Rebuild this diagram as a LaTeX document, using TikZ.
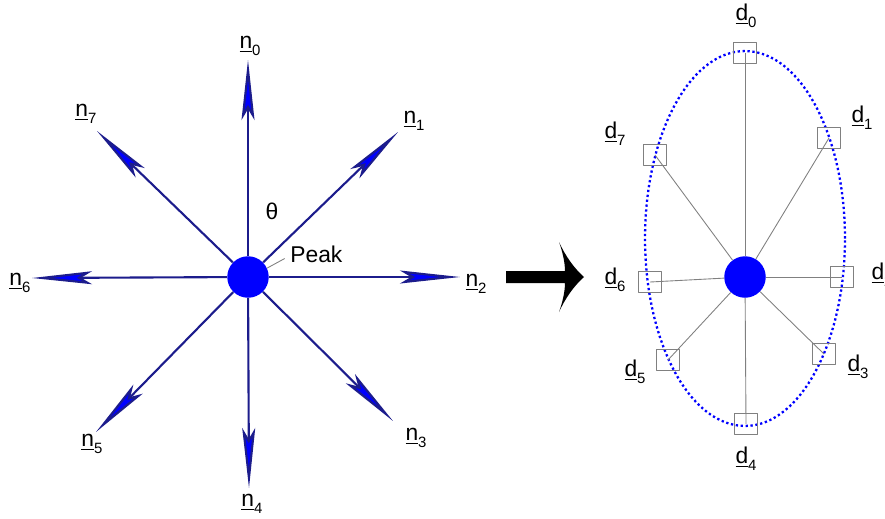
\documentclass[tikz,border=0pt]{standalone}
\usepackage{fontspec}
\setmainfont{Liberation Sans}
\usetikzlibrary{arrows.meta}
\definecolor{vecline}{RGB}{28,28,140}
\newcommand{\vlab}[2]{\underline{#1}\raisebox{-4pt}{\fontsize{8.5}{9}\selectfont #2}}

\begin{document}
\begin{tikzpicture}[x=0.02cm,y=-0.02cm,line join=round,font=\fontsize{13}{15}\selectfont,
	vec/.style={draw=vecline,line width=1.2pt,-{Stealth[length=1.2cm,width=0.26cm,inset=0.22cm,fill=blue]}},
	blob/.style={circle,fill=blue,minimum size=0.83cm,inner sep=0pt},
	cell/.style={draw=gray,rectangle,minimum width=0.46cm,minimum height=0.41cm,inner sep=0pt},
	spoke/.style={draw=gray,line width=0.5pt},
	lab/.style={inner sep=0pt}]
	\useasboundingbox (0,0) rectangle (885,518);
	%========================
	% left: peak with 8 directions
	\node[blob] (peak) at (248,277) {};
	\coordinate (t0) at (248,60);
	\coordinate (t1) at (398,132);
	\coordinate (t2) at (460,277);
	\coordinate (t3) at (393,421);
	\coordinate (t4) at (249,488);
	\coordinate (t5) at (96,432);
	\coordinate (t6) at (32,278);
	\coordinate (t7) at (97,131);
	\draw[vec] (peak) -- (t0);
	\draw[vec] (peak) -- (t1);
	\draw[vec] (peak) -- (t2);
	\draw[vec] (peak) -- (t3);
	\draw[vec] (peak) -- (t4);
	\draw[vec] (peak) -- (t5);
	\draw[vec] (peak) -- (t6);
	\draw[vec] (peak) -- (t7);
	\node[lab] (n0) at (250,46) {\vlab{n}{0}};
	\node[lab] (n1) at (414,121) {\vlab{n}{1}};
	\node[lab] (n2) at (476,284) {\vlab{n}{2}};
	\node[lab] (n3) at (416,438) {\vlab{n}{3}};
	\node[lab] (n4) at (252,504) {\vlab{n}{4}};
	\node[lab] (n5) at (92,444) {\vlab{n}{5}};
	\node[lab] (n6) at (20,283) {\vlab{n}{6}};
	\node[lab] (n7) at (86,114) {\vlab{n}{7}};
	\node[lab] (theta) at (272,211) {θ};
	\node[lab,anchor=base west] (peaktxt) at (290,262) {Peak};
	\draw[spoke] (peak.25) -- ([xshift=-3pt,yshift=2pt]peaktxt.base west);
	%========================
	% big arrow
	\fill (506,271) -- (565,271) .. controls (565,262) and (562,250) .. (559,242)
		.. controls (566,257) and (574,268) .. (584,277)
		.. controls (574,286) and (566,297) .. (559,312)
		.. controls (562,304) and (565,292) .. (565,283) -- (506,283) -- cycle;
	%========================
	% right: peak with 8 cells on ellipse
	\draw[blue,line width=1.3pt,dash pattern=on 1.3pt off 1.5pt] (745,238.5) ellipse [x radius=2cm,y radius=3.75cm];
	\node[blob] (hub) at (745,277) {};
	\node[cell] (d0) at (745,53) {};
	\node[cell] (d1) at (829,138) {};
	\node[cell] (d2) at (842,277) {};
	\node[cell] (d3) at (824,354) {};
	\node[cell] (d4) at (746,424) {};
	\node[cell] (d5) at (668,360) {};
	\node[cell] (d6) at (650,282) {};
	\node[cell] (d7) at (655,155) {};
	\draw[spoke] (hub) -- (d0.center);
	\draw[spoke] (hub) -- (d1.center);
	\draw[spoke] (hub) -- (d2.center);
	\draw[spoke] (hub) -- (d3.center);
	\draw[spoke] (hub) -- (d4.center);
	\draw[spoke] (hub) -- (d5.center);
	\draw[spoke] (hub) -- (d6.center);
	\draw[spoke] (hub) -- (d7.center);
	\node[lab] (l0) at (746,16) {\vlab{d}{0}};
	\node[lab] (l1) at (862,118) {\vlab{d}{1}};
	\node[lab] (l2) at (882,275) {\vlab{d}{2}};
	\node[lab] (l3) at (858,367) {\vlab{d}{3}};
	\node[lab] (l4) at (746,459) {\vlab{d}{4}};
	\node[lab] (l5) at (635,372) {\vlab{d}{5}};
	\node[lab] (l6) at (615,280) {\vlab{d}{6}};
	\node[lab] (l7) at (615,134) {\vlab{d}{7}};
	%========================
\end{tikzpicture}
\end{document}
